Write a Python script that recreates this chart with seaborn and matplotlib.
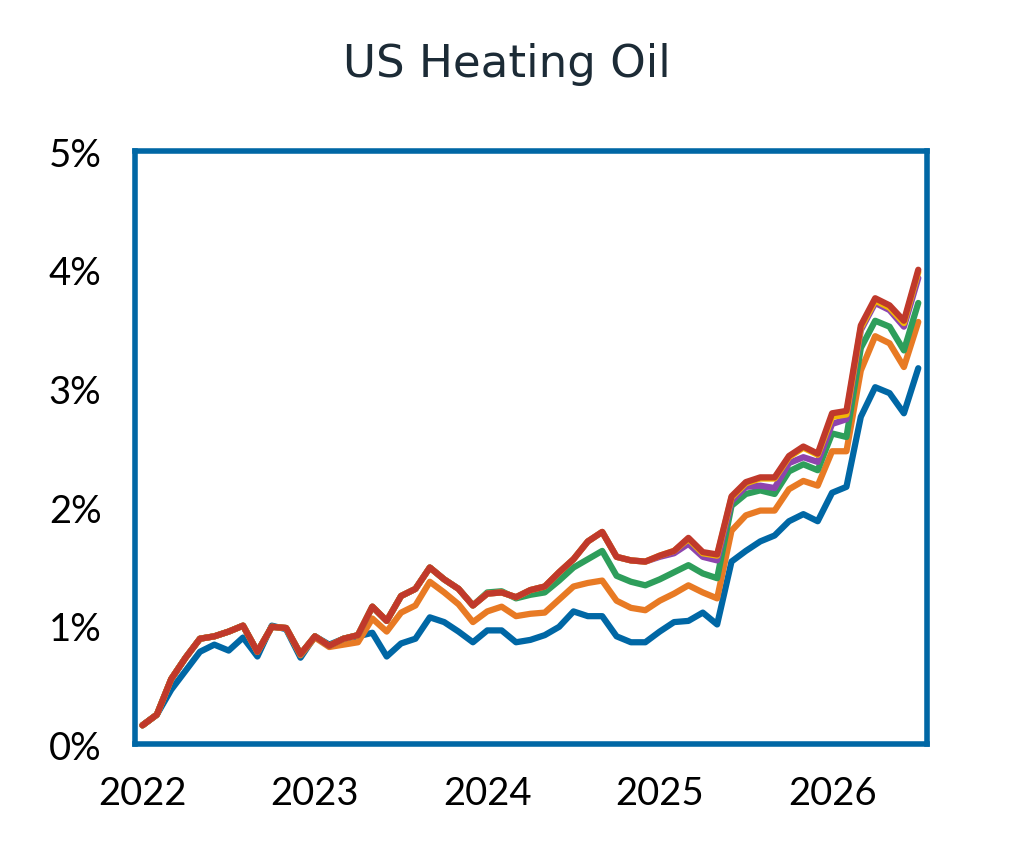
import pandas as pd
import seaborn as sns
import matplotlib.pyplot as plt
from matplotlib.ticker import FuncFormatter

# monthly points, Jan 2022 .. Jul 2026
months = [2022 + i / 12 for i in range(55)]

blue = [0.16, 0.25, 0.46, 0.62, 0.78, 0.84, 0.79, 0.90, 0.74, 1.00, 0.97, 0.73, 0.91, 0.84,
        0.89, 0.91, 0.94, 0.74, 0.85, 0.89, 1.07, 1.03, 0.95, 0.86, 0.96, 0.96, 0.86, 0.88,
        0.92, 0.99, 1.12, 1.08, 1.08, 0.91, 0.86, 0.86, 0.95, 1.03, 1.04, 1.11, 1.01, 1.54,
        1.63, 1.71, 1.76, 1.88, 1.94, 1.88, 2.12, 2.17, 2.76, 3.01, 2.96, 2.79, 3.17]
orange = [0.16, 0.25, 0.55, 0.73, 0.89, 0.91, 0.95, 1.00, 0.78, 0.99, 0.98, 0.75, 0.90, 0.82,
          0.84, 0.86, 1.06, 0.95, 1.11, 1.17, 1.37, 1.28, 1.18, 1.03, 1.12, 1.16, 1.08, 1.10,
          1.11, 1.22, 1.33, 1.36, 1.38, 1.21, 1.15, 1.13, 1.21, 1.27, 1.34, 1.28, 1.23, 1.80,
          1.93, 1.97, 1.97, 2.15, 2.22, 2.18, 2.47, 2.47, 3.15, 3.44, 3.38, 3.18, 3.56]
green = [0.16, 0.25, 0.55, 0.73, 0.89, 0.91, 0.95, 1.00, 0.78, 0.99, 0.98, 0.76, 0.91, 0.83,
         0.89, 0.92, 1.16, 1.04, 1.25, 1.31, 1.49, 1.39, 1.31, 1.17, 1.28, 1.29, 1.23, 1.26,
         1.28, 1.38, 1.49, 1.56, 1.63, 1.42, 1.37, 1.34, 1.39, 1.45, 1.51, 1.44, 1.40, 2.01,
         2.11, 2.14, 2.11, 2.30, 2.36, 2.31, 2.62, 2.59, 3.34, 3.57, 3.52, 3.32, 3.72]
purple = [0.16, 0.25, 0.55, 0.73, 0.89, 0.91, 0.95, 1.00, 0.78, 0.99, 0.98, 0.76, 0.91, 0.83,
          0.89, 0.92, 1.16, 1.04, 1.25, 1.31, 1.49, 1.39, 1.31, 1.17, 1.27, 1.28, 1.24, 1.30,
          1.33, 1.45, 1.56, 1.71, 1.79, 1.58, 1.55, 1.54, 1.58, 1.61, 1.69, 1.58, 1.55, 2.05,
          2.17, 2.18, 2.16, 2.37, 2.42, 2.38, 2.70, 2.74, 3.49, 3.72, 3.66, 3.52, 3.93]
gold = [0.16, 0.25, 0.55, 0.73, 0.89, 0.91, 0.95, 1.00, 0.78, 0.99, 0.98, 0.76, 0.91, 0.83,
        0.89, 0.92, 1.16, 1.04, 1.25, 1.31, 1.49, 1.39, 1.31, 1.17, 1.27, 1.28, 1.24, 1.30,
        1.33, 1.45, 1.56, 1.71, 1.79, 1.58, 1.55, 1.54, 1.59, 1.63, 1.73, 1.61, 1.59, 2.08,
        2.20, 2.24, 2.24, 2.42, 2.50, 2.44, 2.76, 2.78, 3.51, 3.74, 3.68, 3.55, 3.98]
red = [0.16, 0.25, 0.55, 0.73, 0.89, 0.91, 0.95, 1.00, 0.78, 0.99, 0.98, 0.76, 0.91, 0.83,
       0.89, 0.92, 1.16, 1.04, 1.25, 1.31, 1.49, 1.39, 1.31, 1.17, 1.27, 1.28, 1.24, 1.30,
       1.33, 1.45, 1.56, 1.71, 1.79, 1.58, 1.55, 1.54, 1.59, 1.63, 1.74, 1.62, 1.60, 2.09,
       2.21, 2.25, 2.25, 2.43, 2.51, 2.45, 2.79, 2.81, 3.53, 3.76, 3.70, 3.57, 4.00]

series_names = ["s1", "s2", "s3", "s4", "s5", "s6"]
series_vals = [blue, orange, green, purple, gold, red]
colors = ["#0067a5", "#e87a24", "#2e9e5b", "#8e44ad", "#f2b705", "#c0392b"]

year_ticks = [2022, 2023, 2024, 2025, 2026]
pct_ticks = [0, 1, 2, 3, 4, 5]

rows = []
for name, vals in zip(series_names, series_vals):
    for m, v in zip(months, vals):
        rows.append({"year": m, "value": v, "series": name})
df = pd.DataFrame(rows)

sns.set_style("white")
plt.rcParams['font.family'] = ['Lato', 'DejaVu Sans']

fig = plt.figure(figsize=(10.13, 8.45), dpi=100)
ax = fig.add_axes([0.133, 0.118, 0.782, 0.702])

sns.lineplot(data=df, x="year", y="value", hue="series", hue_order=series_names,
             palette=colors, linewidth=4.5, legend=False, ax=ax)

ax.set_xlim(2022 - 0.045, 2026.5 + 0.05)
ax.set_ylim(0, 5)
ax.set_xticks(year_ticks)
ax.set_xticklabels([str(y) for y in year_ticks])
ax.set_yticks(pct_ticks)
ax.yaxis.set_major_formatter(FuncFormatter(lambda v, p: f"{v:.0f}%"))
ax.tick_params(axis="both", length=0, labelsize=27.5, labelcolor="black")
ax.tick_params(axis="y", pad=24)
ax.tick_params(axis="x", pad=22)
ax.set_xlabel("")
ax.set_ylabel("")

for s in ax.spines.values():
    s.set_visible(True)
    s.set_color("#0067a5")
    s.set_linewidth(4.0)

fig.text(0.5, 0.924, "US Heating Oil", ha="center", va="center",
         fontsize=32.5, color="#1c2b36", family=["DejaVu Sans"])

fig.savefig("out.png", dpi=100)
